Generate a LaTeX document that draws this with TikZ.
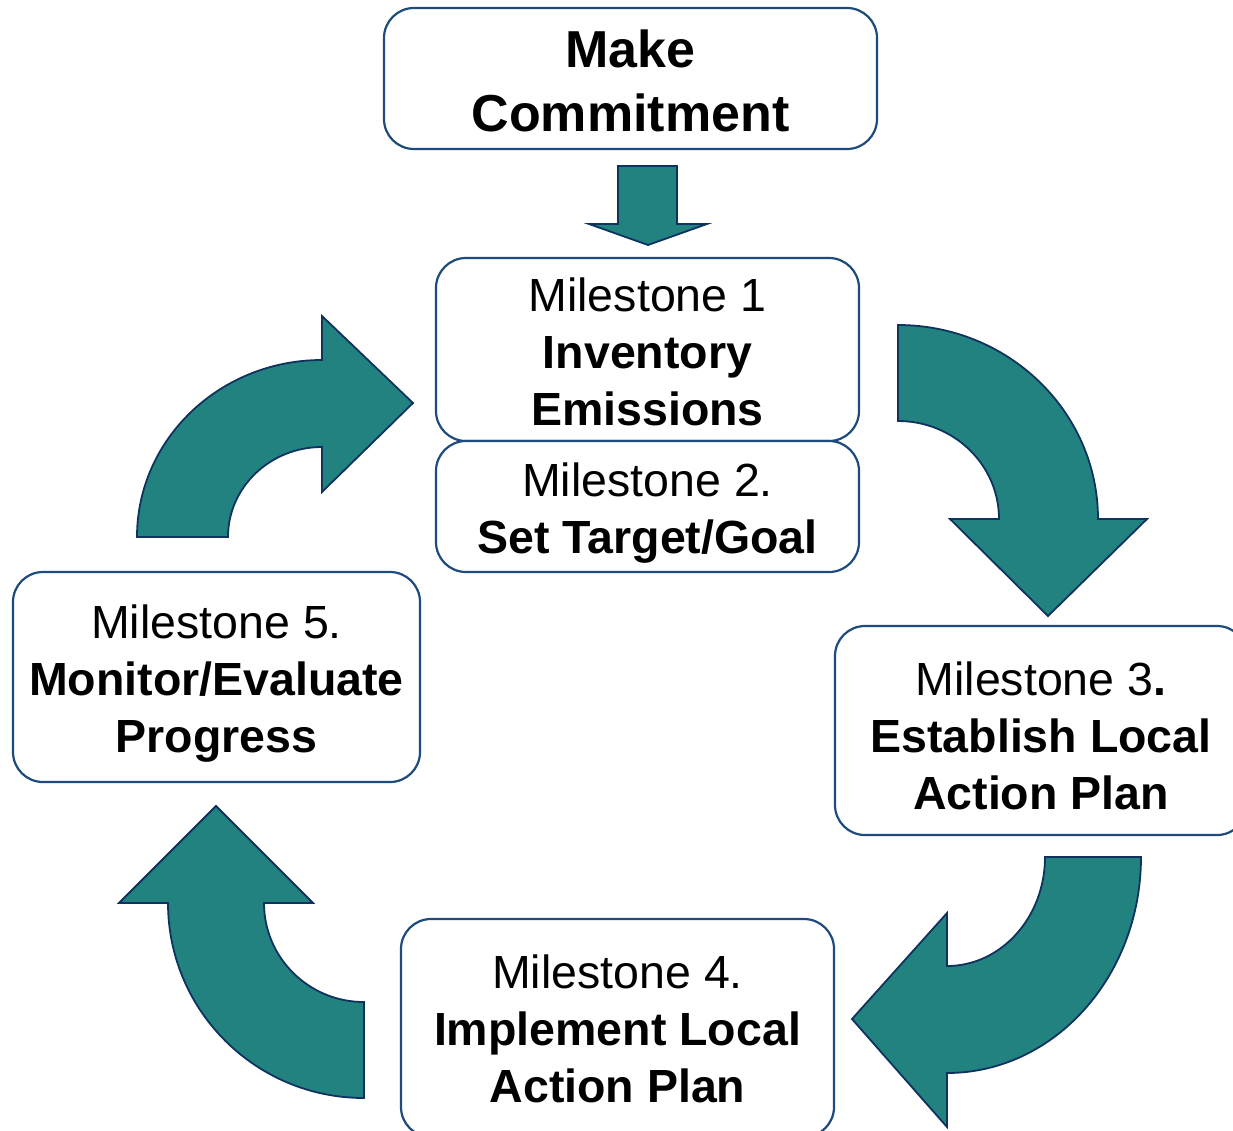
\documentclass[tikz,border=0pt]{standalone}
\usepackage{fontspec}
\setmainfont{Liberation Sans}
\definecolor{boxblue}{RGB}{30,75,125}
\definecolor{arrline}{RGB}{15,50,95}
\definecolor{tealfill}{RGB}{33,130,128}
\newcommand{\mystrut}[1]{\rule{0pt}{#1pt}}
\tikzset{
  box/.style={draw=boxblue, line width=2.2pt, rounded corners=30pt, fill=white,
    align=center, inner sep=0pt, text=black},
  mfont/.style={font=\fontsize{46.5}{57}\selectfont},
  bigfont/.style={font=\fontsize{52}{64}\selectfont\bfseries},
  arr/.style={fill=tealfill, draw=arrline, line width=1.8pt, line join=miter}
}
\begin{document}
\begin{tikzpicture}[x=1pt,y=1pt]
\useasboundingbox (0,0) rectangle (1233,-1130);

% boxes
\node[box, bigfont, minimum width=493pt, minimum height=141pt] (mc) at (630.5,-78.5)
  {\mystrut{42}Make\\Commitment};
\node[box, mfont, minimum width=423pt, minimum height=183pt] (m1) at (647.5,-349.5)
  {\mystrut{38}Milestone 1\\\textbf{Inventory}\\\textbf{Emissions}};
\node[box, mfont, minimum width=423pt, minimum height=131pt] (m2) at (647.5,-506.5)
  {\mystrut{46}Milestone 2.\\\textbf{Set Target/Goal}};
\node[box, mfont, minimum width=407pt, minimum height=210pt] (m5) at (216.5,-677)
  {\mystrut{46}Milestone 5.\\\textbf{Monitor/Evaluate}\\\textbf{Progress}};
\node[box, mfont, minimum width=412pt, minimum height=209pt] (m3) at (1041,-730.5)
  {\mystrut{44}Milestone 3\textbf{.}\\\textbf{Establish Local}\\\textbf{Action Plan}};
\node[box, mfont, minimum width=433pt, minimum height=218pt] (m4) at (617.5,-1028)
  {\mystrut{36}Milestone 4.\\\textbf{Implement Local}\\\textbf{Action Plan}};

% straight down arrow
\draw[arr] (618,-166) -- (677,-166) -- (677,-224) -- (707,-224) -- (648,-245)
  -- (589,-224) -- (618,-224) -- cycle;

% top-right curved arrow (M1 -> M3)
\draw[arr] (898,-325) arc[start angle=90, end angle=0, x radius=200pt, y radius=194pt]
  -- (1147,-519) -- (1048,-616) -- (950,-519) -- (999,-519)
  arc[start angle=0, end angle=90, x radius=101pt, y radius=98pt] -- cycle;

% bottom-right curved arrow (M3 -> M4)
\draw[arr] (1141,-857) arc[start angle=0, end angle=-90, x radius=194pt, y radius=216pt]
  -- (947,-1127) -- (852,-1019) -- (947,-913) -- (947,-966)
  arc[start angle=-90, end angle=0, x radius=98pt, y radius=109pt] -- cycle;

% bottom-left curved arrow (M4 -> M5)
\draw[arr] (364,-1098) arc[start angle=-90, end angle=-180, x radius=196pt, y radius=195pt]
  -- (119,-903) -- (216,-806) -- (313,-903) -- (264,-903)
  arc[start angle=180, end angle=270, x radius=100pt, y radius=99pt] -- cycle;

% top-left curved arrow (M5 -> M1)
\draw[arr] (137,-537) arc[start angle=180, end angle=90, x radius=185pt, y radius=177pt]
  -- (322,-316) -- (413,-403) -- (322,-492) -- (322,-447)
  arc[start angle=90, end angle=180, x radius=94pt, y radius=90pt] -- cycle;
\end{tikzpicture}
\end{document}
